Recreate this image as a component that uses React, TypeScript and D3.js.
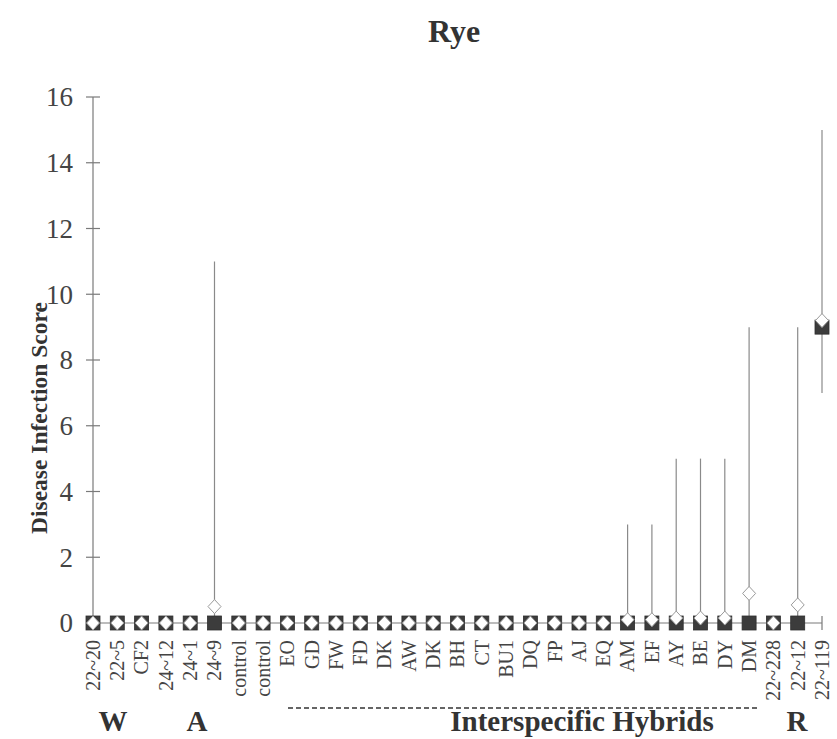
import React from "react";
import * as d3 from "d3";

// Genotypes along the x axis
const categories = [
  "22~20", "22~5", "CF2", "24~12", "24~1", "24~9", "control", "control",
  "EO", "GD", "FW", "FD", "DK", "AW", "DK", "BH", "CT", "BU1", "DQ", "FP",
  "AJ", "EQ", "AM", "EF", "AY", "BE", "DY", "DM", "22~228", "22~12", "22~119",
];

// Median score (filled square)
const medianScore = [
  0, 0, 0, 0, 0, 0, 0, 0, 0, 0, 0, 0, 0, 0, 0, 0, 0, 0, 0, 0,
  0, 0, 0, 0, 0, 0, 0, 0, 0, 0, 9,
];

// Mean score (open diamond)
const meanScore = [
  0, 0, 0, 0, 0, 0.5, 0, 0, 0, 0, 0, 0, 0, 0, 0, 0, 0, 0, 0, 0,
  0, 0, 0.1, 0.1, 0.15, 0.15, 0.15, 0.9, 0, 0.55, 9.2,
];

// Score range (min / max)
const minScore = [
  0, 0, 0, 0, 0, 0, 0, 0, 0, 0, 0, 0, 0, 0, 0, 0, 0, 0, 0, 0,
  0, 0, 0, 0, 0, 0, 0, 0, 0, 0, 7,
];
const maxScore = [
  0, 0, 0, 0, 0, 11, 0, 0, 0, 0, 0, 0, 0, 0, 0, 0, 0, 0, 0, 0,
  0, 0, 3, 3, 5, 5, 5, 9, 0, 9, 15,
];

const yTicks = [0, 2, 4, 6, 8, 10, 12, 14, 16];

// Group captions beneath the category labels
const groups = [
  { label: "W", cx: 113 },
  { label: "A", cx: 197 },
  { label: "Interspecific Hybrids", cx: 582 },
  { label: "R", cx: 797 },
];

const W = 837;
const H = 739;
const left = 93;
const right = 822;
const top = 97;
const bottom = 623;

export default function App() {
  const x = d3
    .scalePoint<number>()
    .domain(d3.range(categories.length))
    .range([left, right]);
  const y = d3.scaleLinear().domain([0, 16]).range([bottom, top]);

  const font = "'Liberation Serif', 'Times New Roman', serif";
  const axisColor = "#7a7a7a";
  const sq = 14;
  const dw = 6.5;
  const dh = 7;

  const diamond = (cx: number, cy: number) =>
    `M${cx},${cy - dh}L${cx + dw},${cy}L${cx},${cy + dh}L${cx - dw},${cy}Z`;

  return (
    <svg
      width={W}
      height={H}
      style={{ position: "absolute", left: 0, top: 0, background: "#fff" }}
      fontFamily={font}
    >
      <text x={454} y={42} textAnchor="middle" fontSize={32} fontWeight="bold" fill="#333">
        Rye
      </text>

      {/* y axis */}
      <line x1={left} x2={left} y1={top} y2={bottom} stroke={axisColor} strokeWidth={1.2} />
      {yTicks.map((t) => (
        <g key={t}>
          <line x1={left - 7} x2={left + 7} y1={y(t)} y2={y(t)} stroke={axisColor} strokeWidth={1.2} />
          <text x={73} y={y(t)} dy="0.35em" textAnchor="end" fontSize={27} fill="#444">
            {t}
          </text>
        </g>
      ))}
      <text
        transform={`translate(47,418) rotate(-90)`}
        textAnchor="middle"
        fontSize={23.5}
        fontWeight="bold"
        fill="#333"
      >
        Disease Infection Score
      </text>

      {/* x axis */}
      <line x1={left} x2={right} y1={bottom} y2={bottom} stroke={axisColor} strokeWidth={1.2} />
      {categories.map((c, i) => (
        <line key={"t" + i} x1={x(i)!} x2={x(i)!} y1={bottom - 7} y2={bottom + 7} stroke={axisColor} strokeWidth={1.2} />
      ))}
      {categories.map((c, i) => (
        <text
          key={"l" + i}
          transform={`translate(${x(i)!},${bottom + 17}) rotate(-90)`}
          dy="0.34em"
          textAnchor="end"
          fontSize={20}
          fill="#444"
        >
          {c}
        </text>
      ))}

      {/* range lines */}
      {categories.map((c, i) =>
        maxScore[i] > minScore[i] ? (
          <line
            key={"r" + i}
            x1={x(i)!}
            x2={x(i)!}
            y1={y(minScore[i])}
            y2={y(maxScore[i])}
            stroke="#8a8a8a"
            strokeWidth={1.2}
          />
        ) : null
      )}

      {/* median squares */}
      {medianScore.map((v, i) => (
        <rect
          key={"m" + i}
          x={x(i)! - sq / 2}
          y={y(v) - sq / 2}
          width={sq}
          height={sq}
          fill="#3c3c3c"
          stroke="#2e2e2e"
          strokeWidth={0.8}
        />
      ))}

      {/* mean diamonds */}
      {meanScore.map((v, i) => (
        <path key={"d" + i} d={diamond(x(i)!, y(v))} fill="#fff" stroke="#9a9a9a" strokeWidth={1} />
      ))}

      {/* dashed bracket under the hybrid group */}
      <line x1={288} x2={757} y1={708} y2={708} stroke="#333" strokeWidth={1.3} strokeDasharray="5,3" />

      {/* group captions */}
      {groups.map((g) => (
        <text
          key={g.label}
          x={g.cx}
          y={731}
          textAnchor="middle"
          fontSize={29}
          fontWeight="bold"
          fill="#333"
        >
          {g.label}
        </text>
      ))}
    </svg>
  );
}
